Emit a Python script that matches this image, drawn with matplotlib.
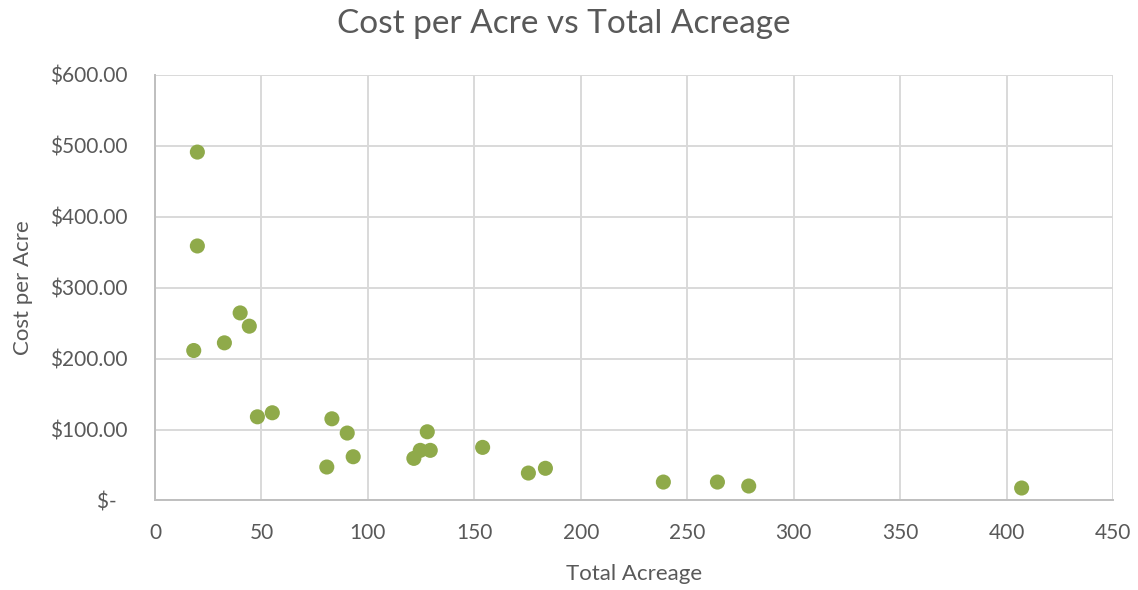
import matplotlib
matplotlib.use("Agg")
import matplotlib.pyplot as plt
from matplotlib.ticker import FuncFormatter, MultipleLocator

total_acreage = [19.9, 19.9, 40.0, 44.3, 32.6, 18.2, 48.1, 55.1, 83.1, 90.3,
                 80.7, 93.1, 121.6, 124.6, 129.3, 127.9, 153.9, 175.4, 183.4,
                 238.8, 264.2, 278.9, 407.1]
cost_per_acre = [491.3, 358.9, 264.5, 245.8, 222.3, 211.5, 118.0, 123.7, 115.2, 95.1,
                 47.2, 61.7, 59.4, 70.7, 70.7, 96.9, 74.9, 38.7, 45.4,
                 26.0, 26.0, 20.4, 17.6]

text_color = "#595959"
plt.rcParams["font.family"] = ["Lato", "DejaVu Sans"]

fig = plt.figure(figsize=(11.38, 5.90), dpi=100)
ax = fig.add_axes([0.1362, 0.1517, 0.978 - 0.1362, 0.8729 - 0.1517])

ax.scatter(total_acreage, cost_per_acre, s=118, color="#8faa4a", edgecolors="none", zorder=3)

ax.set_xlim(0, 450)
ax.set_ylim(0, 600)
ax.xaxis.set_major_locator(MultipleLocator(50))
ax.yaxis.set_major_locator(MultipleLocator(100))


def money(v, pos):
    if abs(v) < 1e-9:
        return "$-  "
    return f"${v:,.2f}"


ax.yaxis.set_major_formatter(FuncFormatter(money))
ax.grid(True, color="#d9d9d9", linewidth=1.4, zorder=0)
ax.set_axisbelow(True)
for side in ("top", "right"):
    ax.spines[side].set_visible(False)
for side in ("left", "bottom"):
    ax.spines[side].set_color("#bfbfbf")
    ax.spines[side].set_linewidth(1.4)
ax.tick_params(length=0, labelsize=15, colors=text_color)
ax.tick_params(axis="x", pad=16)
ax.tick_params(axis="y", pad=20)

ax.set_xlabel("Total Acreage", fontsize=16, color=text_color, labelpad=15)
ax.set_ylabel("Cost per Acre", fontsize=16, color=text_color, labelpad=12)
fig.suptitle("Cost per Acre vs Total Acreage", fontsize=24, color=text_color,
             x=0.495, y=0.985)

fig.savefig("out.png", dpi=100)
